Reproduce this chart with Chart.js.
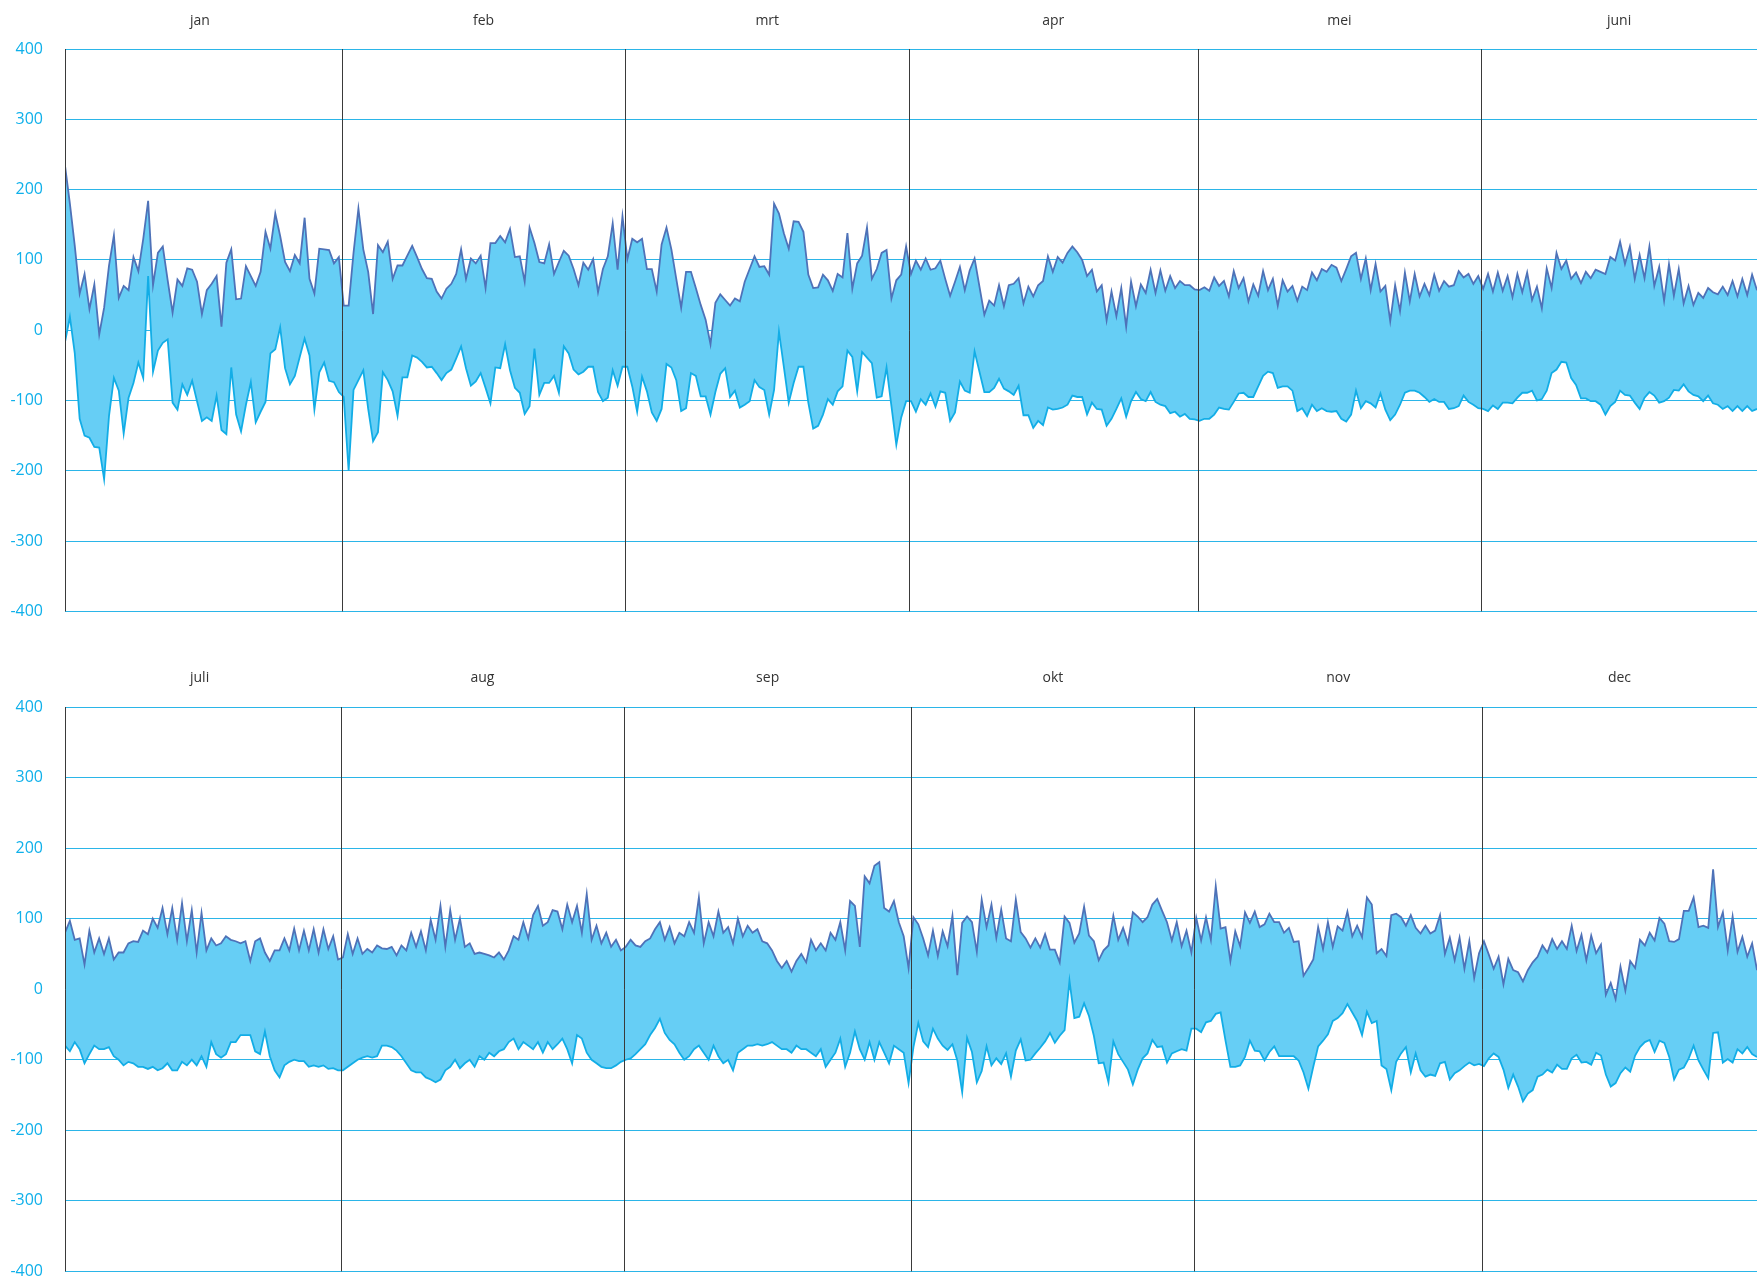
<!DOCTYPE html>
<html>
<head>
<meta charset="utf-8">
<script src="https://cdn.jsdelivr.net/npm/chart.js@4.4.0/dist/chart.umd.min.js"></script>
<style>
  html, body { margin: 0; padding: 0; background: #fff; overflow: hidden; }
  body { width: 1757px; height: 1286px; position: relative; }
  .panel { position: absolute; left: 0; width: 1757px; }
  #top { top: 0; height: 643px; }
  #bottom { top: 643px; height: 660px; }
</style>
</head>
<body>
<div class="panel" id="top"><canvas id="chartTop"></canvas></div>
<div class="panel" id="bottom"><canvas id="chartBottom"></canvas></div>
<script>
// month names per panel
const monthsTop = ['jan', 'feb', 'mrt', 'apr', 'mei', 'juni'];
const monthsBottom = ['juli', 'aug', 'sep', 'okt', 'nov', 'dec'];
const yTicks = [-400, -300, -200, -100, 0, 100, 200, 300, 400];

// upper and lower bound, one array per month
const highTop = [
  [234,180,120,52,80,30,65,-6,32,92,135,46,63,57,104,84,130,184,64,110,119,71,25,72,63,88,86,69,23,57,66,77,5,96,115,44,45,91,77,63,83,140,116,166,134,97,84,107,95,160,73,52,116,115,114,95,104],
  [35,35,110,173,115,83,23,121,111,126,73,92,92,106,120,104,87,74,73,55,45,59,66,80,115,73,102,95,106,60,124,124,134,125,144,104,105,69,146,124,97,95,122,80,97,113,106,87,64,96,86,101,54,87,105,152,86,162],
  [101,130,125,130,87,87,55,122,146,115,73,32,83,83,60,36,15,-20,39,51,43,35,45,41,69,87,105,90,91,79,180,166,138,116,155,154,140,79,60,61,79,71,56,80,75,138,59,95,106,146,73,87,110,114,45,71,79,119],
  [80,99,86,102,86,88,99,73,49,69,90,57,85,102,62,22,42,35,64,34,64,66,74,38,62,48,64,70,105,83,104,96,110,119,111,100,77,86,55,64,14,55,20,60,5,69,34,65,53,86,53,85,56,77,60,70,64,64,58],
  [57,61,56,75,63,70,48,84,60,74,41,65,49,84,57,73,35,71,55,63,42,62,57,82,71,87,83,93,89,70,87,105,110,73,102,57,94,55,63,13,64,27,82,41,80,48,66,50,79,56,70,62,64,84,75,80,66,77],
  [59,80,55,82,56,77,47,80,54,82,43,62,31,88,60,110,87,99,73,82,67,83,74,86,83,80,104,99,126,94,119,73,107,74,119,63,90,42,94,49,87,38,63,36,53,46,60,54,51,62,50,70,48,73,50,79,57]
];
const lowTop = [
  [-17,19,-33,-126,-150,-153,-166,-167,-212,-122,-68,-86,-147,-96,-75,-46,-68,77,-59,-29,-18,-13,-103,-113,-77,-92,-72,-101,-129,-124,-129,-93,-142,-148,-53,-120,-144,-106,-74,-131,-116,-102,-33,-27,4,-54,-77,-65,-38,-12,-36,-113,-60,-46,-72,-74,-88],
  [-95,-200,-85,-71,-57,-112,-158,-145,-60,-71,-87,-122,-67,-67,-36,-39,-45,-53,-52,-61,-71,-61,-56,-40,-23,-54,-79,-73,-61,-82,-104,-53,-54,-20,-57,-82,-89,-119,-108,-26,-92,-75,-75,-65,-89,-23,-33,-56,-63,-59,-52,-52,-88,-101,-96,-57,-79,-52],
  [-52,-80,-116,-66,-87,-117,-129,-112,-48,-53,-71,-115,-111,-61,-65,-94,-94,-120,-88,-62,-54,-95,-86,-110,-106,-101,-71,-81,-85,-120,-85,-2,-52,-103,-75,-52,-52,-103,-140,-136,-120,-98,-106,-87,-80,-29,-38,-87,-31,-39,-47,-96,-94,-53,-108,-163,-124,-101],
  [-101,-116,-98,-106,-90,-109,-87,-89,-129,-117,-73,-86,-89,-30,-59,-88,-88,-82,-69,-83,-87,-92,-79,-121,-121,-139,-129,-135,-110,-113,-112,-110,-106,-93,-95,-95,-120,-103,-112,-113,-136,-126,-112,-97,-123,-101,-88,-98,-101,-88,-102,-106,-108,-118,-116,-123,-119,-126,-127],
  [-129,-126,-126,-120,-110,-112,-113,-102,-90,-89,-95,-95,-80,-65,-59,-61,-82,-80,-80,-86,-115,-111,-122,-106,-115,-111,-115,-116,-115,-126,-130,-120,-86,-111,-101,-104,-110,-90,-113,-128,-120,-106,-89,-86,-86,-89,-95,-102,-98,-102,-102,-112,-111,-108,-93,-102,-106,-111],
  [-112,-115,-107,-112,-103,-103,-104,-96,-89,-89,-86,-100,-98,-86,-61,-56,-45,-46,-68,-78,-97,-97,-101,-101,-106,-120,-108,-102,-86,-92,-93,-103,-112,-96,-88,-93,-103,-101,-96,-85,-86,-77,-87,-92,-94,-101,-93,-104,-106,-112,-108,-115,-108,-115,-108,-115,-112]
];

const highBottom = [
  [80,97,70,72,35,83,52,72,50,72,42,52,52,65,68,67,83,78,100,87,115,78,115,70,122,68,112,52,108,55,72,62,65,75,70,68,65,68,40,68,72,52,40,55,55,72,55,86,55,83,55,85,52,85,57,75,42],
  [45,78,50,72,50,57,52,62,58,57,60,48,62,55,80,60,82,55,98,70,118,60,112,70,100,60,65,50,52,50,48,45,52,42,55,75,70,95,72,105,118,90,95,112,110,85,120,95,118,80,135,70,90,65,80,60,70,55],
  [60,70,62,60,68,72,85,95,70,88,65,80,75,95,80,130,65,95,75,110,80,88,65,100,75,90,80,85,68,65,55,40,30,40,25,40,50,38,70,55,65,55,80,70,95,55,125,118,60,160,150,175,180,115,110,125,95,75,30],
  [102,92,72,48,83,47,82,61,104,20,94,103,95,53,127,88,120,73,113,72,68,127,81,72,59,72,59,78,56,56,38,103,94,66,79,117,76,68,41,55,62,104,70,87,65,109,103,95,102,120,128,111,95,69,95,61,83,52],
  [101,69,102,70,146,86,88,40,82,61,109,94,110,88,92,107,95,95,80,87,67,68,19,30,42,88,57,95,60,89,83,110,75,90,74,130,120,51,57,47,105,107,102,90,105,87,79,90,79,83,105,50,73,41,73,29,68,16,51],
  [68,49,29,46,7,43,27,24,11,27,38,46,62,52,71,57,68,57,90,54,77,41,76,51,63,-8,9,-14,32,-2,40,30,70,62,80,69,101,93,68,67,71,111,111,130,88,90,87,170,88,109,55,103,53,74,46,65,27]
];
const lowBottom = [
  [-80,-88,-75,-85,-105,-92,-80,-85,-85,-82,-95,-100,-108,-103,-105,-110,-110,-113,-110,-115,-112,-105,-115,-115,-103,-108,-100,-108,-95,-110,-75,-92,-97,-92,-75,-75,-65,-65,-65,-88,-92,-60,-95,-115,-125,-108,-103,-100,-102,-102,-110,-108,-110,-108,-113,-112,-115],
  [-115,-110,-105,-100,-97,-95,-97,-95,-80,-80,-82,-87,-95,-105,-115,-118,-118,-125,-128,-132,-128,-115,-110,-100,-112,-105,-100,-110,-95,-100,-90,-95,-88,-85,-75,-70,-85,-75,-80,-85,-75,-90,-75,-85,-78,-70,-85,-105,-65,-70,-90,-100,-105,-110,-112,-112,-108,-103],
  [-100,-98,-92,-85,-78,-65,-55,-42,-62,-72,-78,-90,-100,-95,-85,-80,-90,-100,-80,-95,-105,-100,-115,-90,-85,-80,-80,-78,-80,-78,-75,-80,-85,-85,-90,-80,-85,-85,-90,-95,-85,-110,-100,-90,-70,-110,-90,-60,-85,-100,-75,-100,-75,-90,-105,-80,-85,-90,-133],
  [-82,-48,-74,-82,-56,-70,-80,-86,-78,-101,-146,-69,-89,-132,-116,-81,-108,-98,-106,-91,-124,-87,-71,-101,-100,-91,-83,-74,-62,-76,-66,-58,12,-41,-39,-20,-38,-66,-105,-104,-132,-74,-92,-103,-114,-135,-114,-98,-91,-72,-82,-81,-104,-91,-88,-85,-87,-56],
  [-56,-61,-47,-45,-35,-33,-73,-110,-110,-108,-96,-73,-87,-88,-101,-89,-81,-95,-95,-95,-95,-101,-118,-141,-110,-81,-73,-64,-45,-41,-34,-21,-33,-45,-65,-32,-48,-45,-108,-113,-143,-103,-91,-82,-118,-91,-115,-124,-121,-123,-105,-103,-128,-119,-115,-109,-104,-108,-106],
  [-109,-98,-91,-96,-114,-140,-121,-138,-159,-148,-143,-124,-121,-114,-118,-107,-113,-113,-98,-93,-104,-103,-107,-90,-94,-121,-138,-133,-119,-111,-117,-94,-82,-75,-72,-89,-73,-76,-96,-128,-114,-111,-98,-80,-101,-114,-126,-62,-61,-104,-99,-104,-85,-91,-82,-92,-96]
];

// month separators and month names on top
const monthPlugin = {
  id: 'months',
  afterDatasetsDraw(chart, args, opts) {
    const { ctx, chartArea, scales } = chart;
    const xs = [chartArea.left];
    opts.starts.slice(1).forEach(s => xs.push(scales.x.getPixelForValue(s - 0.4)));
    ctx.save();
    ctx.strokeStyle = '#3a3a3a';
    ctx.lineWidth = 1;
    xs.forEach(x => {
      const px = Math.round(x) + 0.5;
      ctx.beginPath();
      ctx.moveTo(px, chartArea.top);
      ctx.lineTo(px, chartArea.bottom);
      ctx.stroke();
    });
    ctx.fillStyle = '#333';
    ctx.font = '14px "Open Sans"';
    ctx.textAlign = 'center';
    ctx.textBaseline = 'middle';
    opts.names.forEach((n, i) => {
      // first month is cut by the axis: centre it on a full month width
      const a = i === 0 ? xs[1] - (xs[2] - xs[1]) : xs[i];
      const b = i + 1 < xs.length ? xs[i + 1] : chartArea.right;
      ctx.fillText(n, (a + b) / 2, opts.labelY);
    });
    ctx.restore();
  }
};

function makePanel(id, names, highs, lows, padTop, padBottom, labelY) {
  const hi = [], lo = [], starts = [];
  let idx = 0;
  highs.forEach((month, k) => {
    starts.push(idx);
    month.forEach((v, i) => {
      hi.push({ x: idx, y: v });
      lo.push({ x: idx, y: lows[k][i] });
      idx++;
    });
  });

  new Chart(document.getElementById(id), {
    type: 'line',
    data: {
      datasets: [
        { data: hi, borderColor: '#4e72b8', borderWidth: 1.8, backgroundColor: '#66cef5',
          fill: '+1', pointRadius: 0, tension: 0 },
        { data: lo, borderColor: '#12ade6', borderWidth: 1.8, fill: false, pointRadius: 0, tension: 0 }
      ]
    },
    options: {
      responsive: true,
      maintainAspectRatio: false,
      animation: false,
      events: [],
      layout: { padding: { top: padTop, bottom: padBottom, left: 0, right: 0 } },
      plugins: {
        legend: { display: false },
        tooltip: { enabled: false },
        filler: { drawTime: 'beforeDatasetsDraw' },
        months: { starts: starts, names: names, labelY: labelY }
      },
      scales: {
        x: { type: 'linear', min: 0, max: idx - 1, display: false },
        y: {
          min: -400, max: 400,
          afterBuildTicks: s => { s.ticks = yTicks.map(v => ({ value: v })); },
          afterFit: s => { s.width = 65; },
          ticks: { color: '#0fb0ea', font: { family: 'Open Sans', size: 16 }, padding: 22 },
          grid: { color: '#2bb5e8', lineWidth: 1, drawTicks: false },
          border: { display: false }
        }
      }
    },
    plugins: [monthPlugin]
  });
}

makePanel('chartTop', monthsTop, highTop, lowTop, 49, 20, 21);
makePanel('chartBottom', monthsBottom, highBottom, lowBottom, 64, 23, 35);
</script>
</body>
</html>
